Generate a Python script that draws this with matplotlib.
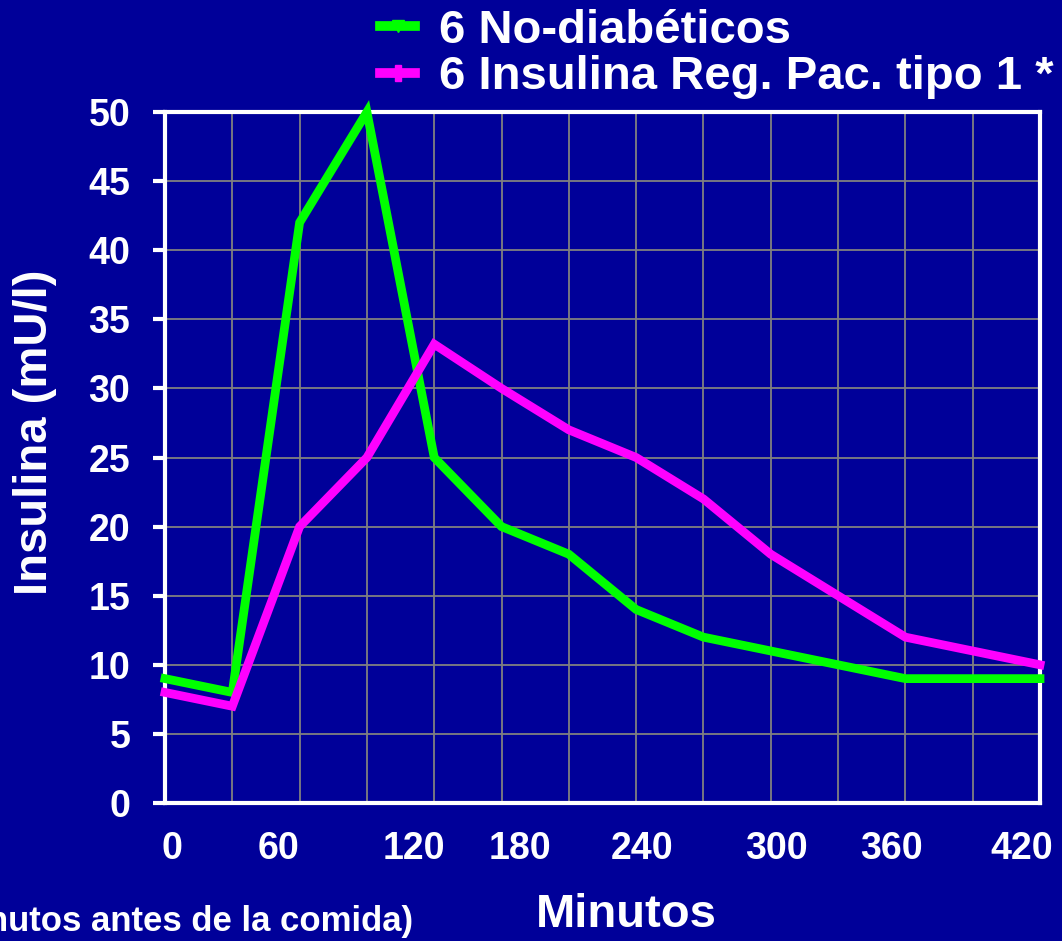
import matplotlib
matplotlib.use('Agg')
import matplotlib.pyplot as plt
from matplotlib.lines import Line2D

plt.rcParams['font.family'] = ['Liberation Sans', 'DejaVu Sans']
plt.rcParams['font.weight'] = 'bold'

# insulin curves (mU/l), one value per sampling point
no_diabeticos = [9, 8, 42, 50, 25, 20, 18, 14, 12, 11, 10, 9, 9, 9]
insulina_reg = [8, 7, 20, 25, 33.2, 30, 27, 25, 22, 18, 15, 12, 11, 10]

x_labels = ['0', '60', '120', '180', '240', '300', '360', '420']
x_label_pos = [0.1, 1.69, 3.7, 5.28, 7.09, 9.08, 10.8, 12.73]
y_ticks = list(range(0, 51, 5))

bg = '#000099'
green = '#00ff00'
magenta = '#ff00ff'

fig = plt.figure(figsize=(10.62, 9.41), dpi=100, facecolor=bg)
ax = fig.add_axes([165 / 1062, 1 - 803 / 941, 875 / 1062, 691 / 941])
ax.set_facecolor(bg)

xs = list(range(len(no_diabeticos)))
ax.plot(xs, no_diabeticos, color=green, lw=6.3, solid_joinstyle='miter',
        clip_on=False, zorder=3)
ax.plot(xs, insulina_reg, color=magenta, lw=6.3, solid_joinstyle='miter',
        clip_on=False, zorder=4)

ax.set_xlim(0, len(xs) - 1)
ax.set_ylim(0, 50)

# grid on every sampling point and every 5 units
for i in xs:
    ax.axvline(i, color='#808080', lw=1.3, zorder=1)
for v in y_ticks:
    ax.axhline(v, color='#808080', lw=1.3, zorder=1)

for s in ax.spines.values():
    s.set_color('white')
    s.set_linewidth(3)
    s.set_zorder(2)

ax.set_yticks(y_ticks)
ax.set_yticklabels([str(v) for v in y_ticks])
ax.tick_params(axis='y', colors='white', length=9, width=3, pad=16,
               labelsize=27, direction='out')
ax.set_xticks(x_label_pos)
ax.set_xticklabels(x_labels)
ax.tick_params(axis='x', colors='white', length=0, pad=20, labelsize=27)
for t in ax.get_xticklabels() + ax.get_yticklabels():
    t.set_fontweight('bold')

fig.text(35 / 1062, 1 - 432 / 941, 'Insulina (mU/l)', rotation=90,
         color='white', fontsize=34, fontweight='bold',
         ha='center', va='center')
fig.text(626 / 1062, 1 - 915 / 941, 'Minutos', color='white', fontsize=34,
         fontweight='bold', ha='center', va='center')
fig.text(413 / 1062, 1 - 922 / 941, '(*30 minutos antes de la comida)',
         color='white', fontsize=25, fontweight='bold',
         ha='right', va='center')

handles = [
    Line2D([], [], color=green, lw=7, marker='v', markersize=8,
           markerfacecolor=green, markeredgecolor=green),
    Line2D([], [], color=magenta, lw=7, marker='P', markersize=11,
           markerfacecolor=magenta, markeredgecolor=magenta),
]
leg = fig.legend(handles, ['6 No-diabéticos', '6 Insulina Reg. Pac. tipo 1 *'],
                 loc='upper left', bbox_to_anchor=(380 / 1062, 1 - 9 / 941),
                 frameon=False, fontsize=34, handlelength=0.75,
                 handletextpad=0.5, labelspacing=0.05, numpoints=1,
                 borderpad=0.0, borderaxespad=0.0)
for t in leg.get_texts():
    t.set_color('white')
    t.set_fontweight('bold')

fig.savefig('out.png', dpi=100, facecolor=bg)
